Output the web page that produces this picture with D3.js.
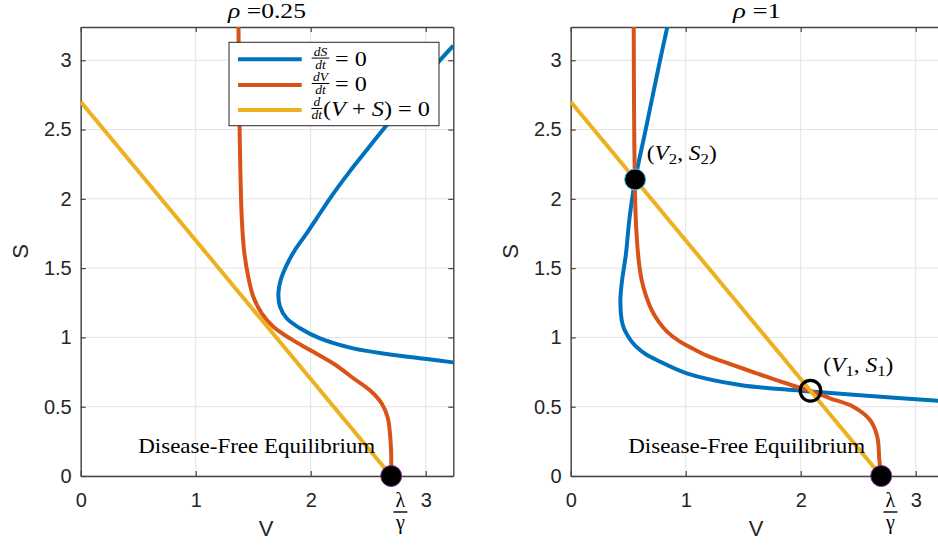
<!DOCTYPE html>
<html>
<head>
<meta charset="utf-8">
<script src="https://cdn.jsdelivr.net/npm/d3@7"></script>
<style>
  body { margin: 0; background: #fff; }
  text { font-family: "Liberation Sans", Arial, Helvetica, sans-serif; fill: #262626; }
  text.serif { font-family: "Liberation Serif", "Times New Roman", serif; fill: #000; }
</style>
</head>
<body>
<svg id="fig" width="938" height="547"></svg>
<script>
// axis limits / ticks
const vLim = [0, 3.24];
const sLim = [0, 3.24];
const vTicks = [0, 1, 2, 3];
const sTicks = [0, 0.5, 1, 1.5, 2, 2.5, 3];
const rhoLabels = ["0.25", "1"];
const lambdaOverGamma = 2.7;

// nullclines, as [V, S]
const dSzeroRhoA = [[3.24, 3.105], [3.125, 3.00], [2.88, 2.75], [2.63, 2.50], [2.487, 2.352], [2.327, 2.184],
  [2.168, 2.004], [2.052, 1.859], [1.965, 1.751], [1.863, 1.631], [1.791, 1.522], [1.739, 1.414],
  [1.719, 1.318], [1.733, 1.222], [1.791, 1.138], [1.907, 1.066], [2.081, 0.993], [2.37, 0.921],
  [2.661, 0.88], [3.009, 0.844], [3.24, 0.820]];
const dVzeroRhoA = [[1.372, 3.24], [1.375, 3.00], [1.38, 2.60], [1.385, 2.352], [1.391, 2.112], [1.40, 1.871],
  [1.42, 1.631], [1.457, 1.438], [1.501, 1.294], [1.574, 1.174], [1.675, 1.077], [1.82, 0.993],
  [1.994, 0.909], [2.20, 0.81], [2.38, 0.70], [2.52, 0.615], [2.62, 0.52], [2.67, 0.42],
  [2.69, 0.30], [2.70, 0.15], [2.70, 0]];
const dSzeroRhoB = [[0.84, 3.24], [0.777, 3.00], [0.652, 2.50], [0.559, 2.13], [0.51, 1.85], [0.48, 1.60],
  [0.445, 1.40], [0.432, 1.27], [0.443, 1.126], [0.465, 1.06], [0.501, 1.005], [0.54, 0.96],
  [0.603, 0.909], [0.66, 0.875], [0.748, 0.837], [1.009, 0.741], [1.472, 0.657], [1.994, 0.616],
  [2.487, 0.584], [3.24, 0.54]];
const dVzeroRhoB = [[0.548, 3.24], [0.55, 2.80], [0.553, 2.40], [0.558, 2.13], [0.562, 1.943],
  [0.574, 1.727], [0.592, 1.55], [0.617, 1.414], [0.655, 1.30], [0.70, 1.205], [0.76, 1.12],
  [0.84, 1.04], [0.94, 0.975], [1.037, 0.93], [1.18, 0.87], [1.327, 0.825], [1.617, 0.741],
  [1.965, 0.644], [2.085, 0.615], [2.255, 0.561], [2.457, 0.50], [2.603, 0.404], [2.666, 0.284],
  [2.684, 0.115], [2.70, 0]];
const totalZero = [[0, 2.7], [2.7, 0]];

// equilibria
const dfePoint = [2.7, 0];
const eq2Point = [0.56, 2.14];
const eq1Point = [2.085, 0.615];

const colors = { dS: "#0072BD", dV: "#D95319", tot: "#EDB120" };

const svg = d3.select("#fig");
const plotTop = 27, plotBottom = 476, plotW = 372.6;
const panels = [
  { left: 80.7, rho: rhoLabels[0], titleW: 78, dS: dSzeroRhoA, dV: dVzeroRhoA, legend: true, eqs: false },
  { left: 570.7, rho: rhoLabels[1], titleW: 48, dS: dSzeroRhoB, dV: dVzeroRhoB, legend: false, eqs: true }
];

panels.forEach(function(p, i) {
  const x = d3.scaleLinear().domain(vLim).range([p.left, p.left + plotW]);
  const y = d3.scaleLinear().domain(sLim).range([plotBottom, plotTop]);
  const g = svg.append("g");

  // grid
  g.append("g").selectAll("line").data(vTicks).enter().append("line")
    .attr("x1", d => x(d)).attr("x2", d => x(d)).attr("y1", plotTop).attr("y2", plotBottom)
    .attr("stroke", "#e3e3e3").attr("stroke-width", 1);
  g.append("g").selectAll("line").data(sTicks).enter().append("line")
    .attr("x1", p.left).attr("x2", p.left + plotW).attr("y1", d => y(d)).attr("y2", d => y(d))
    .attr("stroke", "#e3e3e3").attr("stroke-width", 1);

  // box + ticks
  const fmt = d => String(d);
  const ax = [
    g.append("g").attr("transform", `translate(0,${plotBottom})`)
      .call(d3.axisBottom(x).tickValues(vTicks).tickFormat(fmt).tickSizeInner(-5).tickSizeOuter(0).tickPadding(17)),
    g.append("g").attr("transform", `translate(${p.left},0)`)
      .call(d3.axisLeft(y).tickValues(sTicks).tickFormat(fmt).tickSizeInner(-5).tickSizeOuter(0).tickPadding(9)),
    g.append("g").attr("transform", `translate(0,${plotTop})`)
      .call(d3.axisTop(x).tickValues(vTicks).tickFormat("").tickSizeInner(-5).tickSizeOuter(0)),
    g.append("g").attr("transform", `translate(${p.left + plotW},0)`)
      .call(d3.axisRight(y).tickValues(sTicks).tickFormat("").tickSizeInner(-5).tickSizeOuter(0))
  ];
  ax.forEach(function(a) {
    a.select(".domain").attr("stroke", "#444").attr("stroke-width", 1.4);
    a.selectAll(".tick line").attr("stroke", "#444").attr("stroke-width", 1.2);
    a.selectAll(".tick text").style("font-size", "20px").attr("fill", "#262626")
      .style("font-family", "'Liberation Sans', Arial, Helvetica, sans-serif");
  });

  // axis labels
  g.append("text").attr("x", p.left + plotW / 2 - 1).attr("y", 536).attr("text-anchor", "middle")
    .style("font-size", "22px").text("V");
  g.append("text").attr("transform", `translate(${p.left - 53},${(plotTop + plotBottom) / 2}) rotate(-90)`)
    .attr("text-anchor", "middle").style("font-size", "22px").text("S");

  // title
  const t = g.append("text").attr("class", "serif").attr("x", p.left + plotW / 2).attr("y", 18)
    .attr("text-anchor", "middle").style("font-size", "20px")
    .attr("textLength", p.titleW).attr("lengthAdjust", "spacingAndGlyphs");
  t.append("tspan").style("font-style", "italic").text("ρ");
  t.append("tspan").text(" =" + p.rho);

  // curves
  const clipId = "clip" + i;
  svg.append("clipPath").attr("id", clipId).append("rect")
    .attr("x", p.left).attr("y", plotTop).attr("width", plotW).attr("height", plotBottom - plotTop);
  const line = d3.line().x(d => x(d[0])).y(d => y(d[1])).curve(d3.curveCatmullRom.alpha(0.5));
  const curves = g.append("g").attr("clip-path", `url(#${clipId})`);
  [[p.dS, colors.dS], [p.dV, colors.dV], [totalZero, colors.tot]].forEach(function(c) {
    curves.append("path").datum(c[0]).attr("d", line).attr("fill", "none")
      .attr("stroke", c[1]).attr("stroke-width", 4).attr("stroke-linejoin", "round");
  });

  // disease-free equilibrium
  g.append("text").attr("class", "serif").attr("x", x(0.5)).attr("y", y(0.164))
    .style("font-size", "22px").attr("textLength", 237).attr("lengthAdjust", "spacingAndGlyphs")
    .text("Disease-Free Equilibrium");
  g.append("circle").attr("cx", x(dfePoint[0])).attr("cy", y(dfePoint[1])).attr("r", 10.5)
    .attr("fill", "#000").attr("stroke", "#7E2F8E").attr("stroke-width", 1);

  // lambda / gamma
  const lx = x(lambdaOverGamma + 0.08);
  g.append("text").attr("class", "serif").attr("x", lx).attr("y", 507).attr("text-anchor", "middle")
    .style("font-size", "20px").text("λ");
  g.append("line").attr("x1", lx - 7).attr("x2", lx + 7).attr("y1", 512).attr("y2", 512)
    .attr("stroke", "#000").attr("stroke-width", 1.4);
  g.append("text").attr("class", "serif").attr("x", lx).attr("y", 529).attr("text-anchor", "middle")
    .style("font-size", "20px").text("γ");

  if (p.eqs) {
    g.append("circle").attr("cx", x(eq2Point[0])).attr("cy", y(eq2Point[1])).attr("r", 10.5)
      .attr("fill", "#000").attr("stroke", "#4DBEEE").attr("stroke-width", 1);
    g.append("circle").attr("cx", x(eq1Point[0])).attr("cy", y(eq1Point[1])).attr("r", 10.3)
      .attr("fill", "none").attr("stroke", "#000").attr("stroke-width", 3.2);
    subLabel(g, x(0.661), y(2.28), "2");
    subLabel(g, x(2.197), y(0.753), "1");
  }

  if (p.legend) drawLegend(g);
});

function subLabel(g, px, py, k) {
  const t = g.append("text").attr("class", "serif").attr("x", px).attr("y", py).style("font-size", "21px")
    .attr("textLength", 70).attr("lengthAdjust", "spacingAndGlyphs");
  t.append("tspan").text("(");
  t.append("tspan").style("font-style", "italic").text("V");
  t.append("tspan").attr("dy", 4).style("font-size", "15px").text(k);
  t.append("tspan").attr("dy", -4).text(", ");
  t.append("tspan").style("font-style", "italic").text("S");
  t.append("tspan").attr("dy", 4).style("font-size", "15px").text(k);
  t.append("tspan").attr("dy", -4).text(")");
}

function fraction(g, cx, yBar, num, den, w) {
  g.append("text").attr("class", "serif").attr("x", cx).attr("y", yBar - 2.4).attr("text-anchor", "middle")
    .style("font-size", "13.5px").style("font-style", "italic").text(num);
  g.append("line").attr("x1", cx - w / 2).attr("x2", cx + w / 2).attr("y1", yBar).attr("y2", yBar)
    .attr("stroke", "#000").attr("stroke-width", 1);
  g.append("text").attr("class", "serif").attr("x", cx).attr("y", yBar + 10.8).attr("text-anchor", "middle")
    .style("font-size", "13.5px").style("font-style", "italic").text(den);
}

function drawLegend(g) {
  const lg = g.append("g");
  lg.append("rect").attr("x", 229).attr("y", 42.3).attr("width", 210).attr("height", 83.4)
    .attr("fill", "#fff").attr("stroke", "#262626").attr("stroke-width", 1);
  const rows = [59.3, 85, 110];
  [colors.dS, colors.dV, colors.tot].forEach(function(c, k) {
    lg.append("line").attr("x1", 238).attr("x2", 301.7).attr("y1", rows[k]).attr("y2", rows[k])
      .attr("stroke", c).attr("stroke-width", 4);
  });
  fraction(lg, 320.5, rows[0] - 1.2, "dS", "dt", 17.6);
  fraction(lg, 320.5, rows[1] - 1.5, "dV", "dt", 17.6);
  fraction(lg, 316.8, rows[2] - 1.5, "d", "dt", 11);
  [0, 1].forEach(function(k) {
    lg.append("text").attr("class", "serif").attr("x", 335).attr("y", rows[k] + 6.3)
      .style("font-size", "20px").attr("textLength", 31.7).attr("lengthAdjust", "spacingAndGlyphs").text("= 0");
  });
  const t = lg.append("text").attr("class", "serif").attr("x", 323).attr("y", rows[2] + 6)
    .style("font-size", "20px").attr("textLength", 107).attr("lengthAdjust", "spacingAndGlyphs");
  t.append("tspan").text("(");
  t.append("tspan").style("font-style", "italic").text("V");
  t.append("tspan").text(" + ");
  t.append("tspan").style("font-style", "italic").text("S");
  t.append("tspan").text(") = 0");
}
</script>
</body>
</html>
